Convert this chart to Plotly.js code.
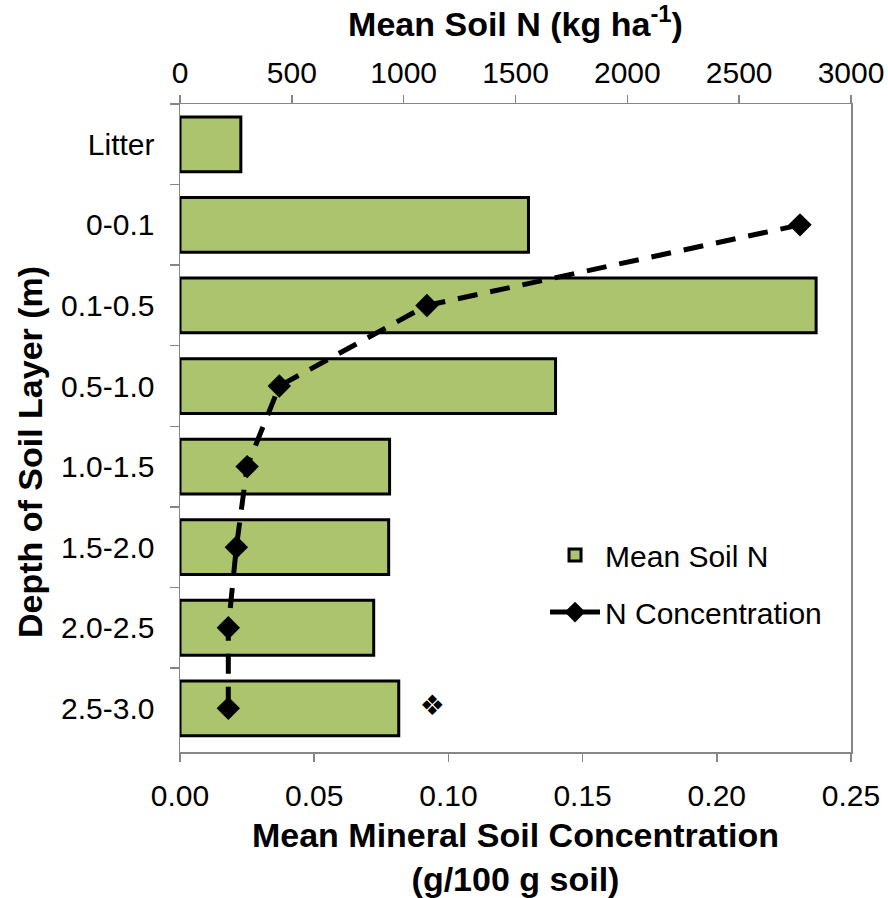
<!DOCTYPE html>
<html>
<head>
<meta charset="utf-8">
<script src="https://cdn.plot.ly/plotly-3.0.1.min.js"></script>
<style>html,body{margin:0;padding:0;background:#fff;}</style>
</head>
<body>
<div id="chart" style="width:888px;height:898px;"></div>
<script>
// Data
const layers = ["Litter", "0-0.1", "0.1-0.5", "0.5-1.0", "1.0-1.5", "1.5-2.0", "2.0-2.5", "2.5-3.0"];
const meanSoilN = [272, 1558, 2844, 1679, 937, 933, 866, 978];           // kg ha-1 (top axis)
const concLayers = ["0-0.1", "0.1-0.5", "0.5-1.0", "1.0-1.5", "1.5-2.0", "2.0-2.5", "2.5-3.0"];
const nConcentration = [0.231, 0.092, 0.037, 0.025, 0.021, 0.018, 0.018]; // g/100 g soil (bottom axis)
const outlierX = [0.094];
const outlierY = ["2.5-3.0"];
const outlierText = ["❖"];
const topTicks = [0, 500, 1000, 1500, 2000, 2500, 3000];
const bottomTicks = [0, 0.05, 0.10, 0.15, 0.20, 0.25];

const FONT = "Liberation Sans, Arial, sans-serif";
const axisGrey = "#868686";

const traces = [
  {
    type: "bar", orientation: "h",
    x: meanSoilN, y: layers, xaxis: "x", yaxis: "y",
    name: "Mean Soil N", legend: "legend",
    marker: {color: "#abc46d", line: {color: "#000", width: 3}}
  },
  {
    type: "scatter", mode: "lines+markers",
    x: nConcentration, y: concLayers, xaxis: "x2", yaxis: "y",
    name: "N Concentration", legend: "legend2",
    line: {color: "#000", width: 5, dash: "20px,13px"},
    marker: {symbol: "diamond", size: 18, color: "#000"}
  },
  {
    type: "scatter", mode: "text",
    x: outlierX, y: outlierY, xaxis: "x2", yaxis: "y",
    text: outlierText, textposition: "middle center",
    textfont: {size: 28, color: "#000", family: "DejaVu Sans"},
    showlegend: false, hoverinfo: "skip"
  }
];

const layout = {
  width: 888, height: 898,
  margin: {l: 180, r: 37, t: 104, b: 146},
  paper_bgcolor: "#fff", plot_bgcolor: "#fff",
  font: {family: FONT, size: 30, color: "#000"},
  bargap: 0.32,
  xaxis: {
    side: "top", range: [0, 3000], tickvals: topTicks,
    ticks: "outside", ticklen: 8, tickcolor: axisGrey, tickwidth: 1.5,
    showline: true, linecolor: axisGrey, linewidth: 1.5,
    showgrid: false, zeroline: false,
    tickfont: {size: 30},
    title: {text: "<b>Mean Soil N (kg ha<sup>-1</sup>)</b>", font: {size: 34}, standoff: 8}
  },
  xaxis2: {
    side: "bottom", overlaying: "x", range: [0, 0.25], tickvals: bottomTicks,
    tickformat: ".2f",
    ticks: "outside", ticklen: 8, tickcolor: axisGrey, tickwidth: 1.5,
    showline: true, linecolor: axisGrey, linewidth: 1.5,
    showgrid: false, zeroline: false,
    tickfont: {size: 30}, ticklabelstandoff: 8,
    title: {text: "<b>Mean Mineral Soil Concentration<br>(g/100 g soil)</b>", font: {size: 34}, standoff: 12}
  },
  yaxis: {
    type: "category", categoryorder: "array", categoryarray: layers,
    autorange: "reversed",
    ticks: "outside", tickson: "boundaries", ticklen: 9, tickcolor: axisGrey, tickwidth: 1.5,
    showline: true, mirror: true, linecolor: axisGrey, linewidth: 1.5,
    showgrid: false, zeroline: false,
    tickfont: {size: 30}, ticklabelstandoff: 18
  },
  annotations: [{
    text: "<b>Depth of Soil Layer (m)</b>", textangle: -90,
    xref: "paper", yref: "paper", x: -0.2235, y: 0.463,
    xanchor: "center", yanchor: "middle", showarrow: false,
    font: {size: 34, family: FONT, color: "#000"}
  }],
  legend: {
    x: 0.544, xanchor: "left", y: 0.304, yanchor: "middle",
    bgcolor: "rgba(0,0,0,0)", borderwidth: 0,
    font: {size: 30}, itemwidth: 50
  },
  legend2: {
    x: 0.544, xanchor: "left", y: 0.216, yanchor: "middle",
    bgcolor: "rgba(0,0,0,0)", borderwidth: 0,
    font: {size: 30}, itemwidth: 50
  },
  showlegend: true
};

Plotly.newPlot("chart", traces, layout, {staticPlot: true, displayModeBar: false});
</script>
</body>
</html>
